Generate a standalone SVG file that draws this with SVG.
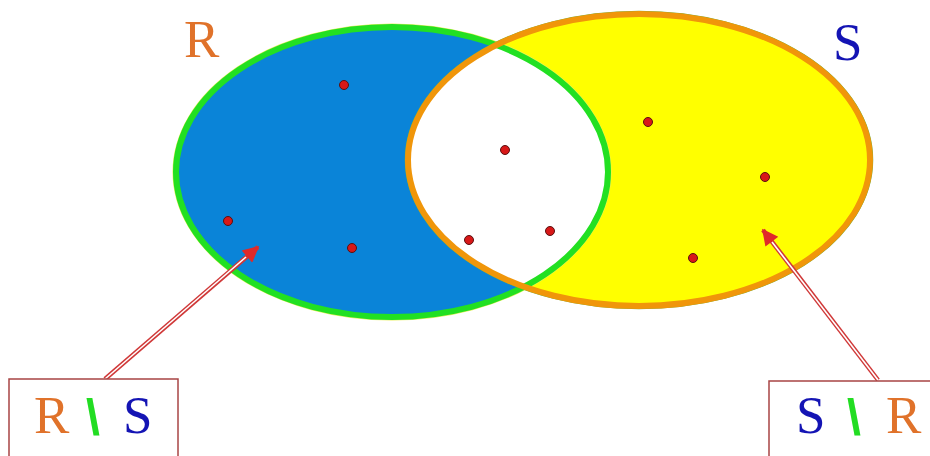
<svg xmlns="http://www.w3.org/2000/svg" width="930" height="456" viewBox="0 0 930 456">
<style>
.lbl{font-family:"Liberation Serif","DejaVu Serif",serif;font-size:53px}
.r{fill:#e0722a}.s{fill:#1414b4}
.bs{font-family:"Liberation Sans",sans-serif;font-size:50px;font-weight:bold;fill:#22dd22}
.dot{fill:#d81818;stroke:#5a1010;stroke-width:1}
.box{fill:#fff;stroke:#a84444;stroke-width:1.5}
.arr{stroke:#d03838;stroke-width:4.5;fill:none}
.arrin{stroke:#fff;stroke-width:1.6;fill:none}
</style>
<defs>
<marker id="ah" viewBox="0 0 10 10" refX="9" refY="5" markerWidth="4.5" markerHeight="3.6" orient="auto" markerUnits="strokeWidth">
<path d="M0,0 L10,5 L0,10 z" fill="#e02a2a"/>
</marker>
<clipPath id="clipR"><ellipse cx="392" cy="172" rx="216" ry="145"/></clipPath>
</defs>
<rect width="930" height="456" fill="#fff"/>
<g id="setR-fill"><ellipse cx="392" cy="172" rx="216" ry="145" fill="#0a84d8"/></g>
<g id="setS-fill"><ellipse cx="639" cy="160" rx="231" ry="146" fill="#ffff00"/></g>
<g id="intersection"><ellipse cx="639" cy="160" rx="231" ry="146" fill="#fff" clip-path="url(#clipR)"/></g>
<g id="setR">
<ellipse cx="392" cy="172" rx="218" ry="147" fill="none" stroke="#e8f060" stroke-width="3"/>
<ellipse cx="392" cy="172" rx="216" ry="145" fill="none" stroke="#22e022" stroke-width="6"/>
</g>
<g id="setS">
<ellipse cx="639" cy="160" rx="233" ry="148" fill="none" stroke="#70b040" stroke-width="2.5"/>
<ellipse cx="639" cy="160" rx="231" ry="146" fill="none" stroke="#f0960a" stroke-width="6"/>
</g>
<g id="elements">
<circle class="dot" cx="344" cy="85" r="4.5"/>
<circle class="dot" cx="228" cy="221" r="4.5"/>
<circle class="dot" cx="352" cy="248" r="4.5"/>
<circle class="dot" cx="505" cy="150" r="4.5"/>
<circle class="dot" cx="469" cy="240" r="4.5"/>
<circle class="dot" cx="550" cy="231" r="4.5"/>
<circle class="dot" cx="648" cy="122" r="4.5"/>
<circle class="dot" cx="765" cy="177" r="4.5"/>
<circle class="dot" cx="693" cy="258" r="4.5"/>
</g>
<g id="label-R"><text class="lbl r" x="184" y="57">R</text></g>
<g id="label-S"><text class="lbl s" x="833" y="60">S</text></g>
<g id="connectors">
<line class="arr" x1="105" y1="379" x2="258" y2="247" marker-end="url(#ah)"/>
<line class="arrin" x1="105" y1="379" x2="246" y2="257"/>
<line class="arr" x1="878" y1="380" x2="763" y2="230" marker-end="url(#ah)"/>
<line class="arrin" x1="878" y1="380" x2="772" y2="242"/>
</g>
<g id="box-RminusS">
<rect class="box" x="9" y="379" width="169" height="90"/>
<text class="lbl r" x="34" y="433">R</text>
<text class="bs" x="86" y="434">\</text>
<text class="lbl s" x="123" y="433">S</text>
</g>
<g id="box-SminusR">
<rect class="box" x="769" y="381" width="170" height="90"/>
<text class="lbl s" x="796" y="433">S</text>
<text class="bs" x="847" y="434">\</text>
<text class="lbl r" x="886" y="433">R</text>
</g>
</svg>
